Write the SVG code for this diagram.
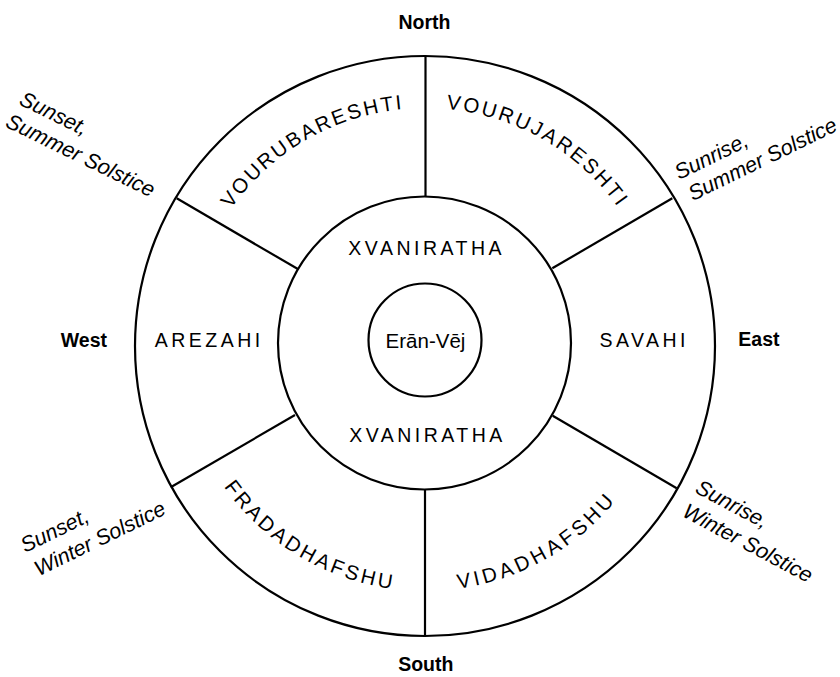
<svg xmlns="http://www.w3.org/2000/svg" width="840" height="677" viewBox="0 0 840 677">
  <style>
    .ring { fill: none; stroke: #000; stroke-width: 2.2; }
    .div { stroke: #000; stroke-width: 2.2; fill: none; }
    .lbl { font-family: "Liberation Sans", Arial, sans-serif; font-size: 19.5px; fill: #000; letter-spacing: 3.5px; }
    .arc { font-family: "Liberation Sans", Arial, sans-serif; font-size: 20.5px; fill: #000; }
    .dir { font-family: "Liberation Sans", Arial, sans-serif; font-size: 19.5px; font-weight: bold; fill: #000; }
    .sun { font-family: "Liberation Sans", Arial, sans-serif; font-size: 21.5px; font-style: italic; fill: #000; }
  </style>
  <defs>
    <path id="pTL" d="M196.1,283.7 A237,237 0 0,1 486.3,116.1"/>
    <path id="pTR" d="M363.7,116.1 A237,237 0 0,1 653.9,283.7"/>
    <path id="pBL" d="M186.3,404.5 A246,246 0 0,0 484.5,583.7"/>
    <path id="pBR" d="M359.3,582 A246,246 0 0,0 662,410.7"/>
  </defs>
  <rect width="840" height="677" fill="#fff"/>

  <g id="rings">
    <circle class="ring" cx="425" cy="346" r="290"/>
    <circle class="ring" cx="424.5" cy="343" r="146.5"/>
    <circle class="ring" cx="425" cy="340" r="56.5"/>
  </g>

  <g id="connectors">
    <line class="div" x1="425.5" y1="56" x2="425.5" y2="196.5"/>
    <line class="div" x1="425" y1="489.5" x2="425" y2="636"/>
    <line class="div" x1="176.7" y1="198.3" x2="298.3" y2="269.3"/>
    <line class="div" x1="672.3" y1="198.3" x2="552.3" y2="268.3"/>
    <line class="div" x1="170.7" y1="487.3" x2="295" y2="415"/>
    <line class="div" x1="676.7" y1="488.3" x2="552.7" y2="415.7"/>
  </g>

  <g id="eran-vej">
    <text x="425.5" y="348" font-family="Liberation Sans, Arial, sans-serif" font-size="20.5" text-anchor="middle">Erān-Vēj</text>
  </g>
  <g id="xvaniratha">
    <text class="lbl" x="426.7" y="255" text-anchor="middle">XVANIRATHA</text>
    <text class="lbl" x="427.5" y="441.7" text-anchor="middle">XVANIRATHA</text>
  </g>
  <g id="arezahi">
    <text class="lbl" x="209.2" y="347.3" text-anchor="middle">AREZAHI</text>
  </g>
  <g id="savahi">
    <text class="lbl" x="644.2" y="347.3" text-anchor="middle">SAVAHI</text>
  </g>
  <g id="vourubareshti">
    <text class="arc" letter-spacing="2.3"><textPath href="#pTL" startOffset="50%" text-anchor="middle">VOURUBARESHTI</textPath></text>
  </g>
  <g id="vourujareshti">
    <text class="arc" letter-spacing="2.5"><textPath href="#pTR" startOffset="50%" text-anchor="middle">VOURUJARESHTI</textPath></text>
  </g>
  <g id="fradadhafshu">
    <text class="arc" letter-spacing="3"><textPath href="#pBL" startOffset="50%" text-anchor="middle">FRADADHAFSHU</textPath></text>
  </g>
  <g id="vidadhafshu">
    <text class="arc" letter-spacing="3.6"><textPath href="#pBR" startOffset="50%" text-anchor="middle">VIDADHAFSHU</textPath></text>
  </g>

  <g id="directions">
    <text class="dir" x="424.5" y="28.5" text-anchor="middle">North</text>
    <text class="dir" x="425.8" y="671" text-anchor="middle">South</text>
    <text class="dir" x="107" y="347" text-anchor="end">West</text>
    <text class="dir" x="738.3" y="346">East</text>
  </g>

  <g id="sunset-summer" transform="translate(18,104) rotate(26)">
    <text class="sun" x="0" y="0">Sunset,</text>
    <text class="sun" x="-2.5" y="26">Summer Solstice</text>
  </g>
  <g id="sunrise-summer" transform="translate(679,180) rotate(-26)">
    <text class="sun" x="0" y="0">Sunrise,</text>
    <text class="sun" x="3" y="25">Summer Solstice</text>
  </g>
  <g id="sunset-winter" transform="translate(25,553) rotate(-26)">
    <text class="sun" x="0" y="0">Sunset,</text>
    <text class="sun" x="2" y="27">Winter Solstice</text>
  </g>
  <g id="sunrise-winter" transform="translate(694,492) rotate(28)">
    <text class="sun" x="0" y="0">Sunrise,</text>
    <text class="sun" x="0" y="27">Winter Solstice</text>
  </g>
</svg>
